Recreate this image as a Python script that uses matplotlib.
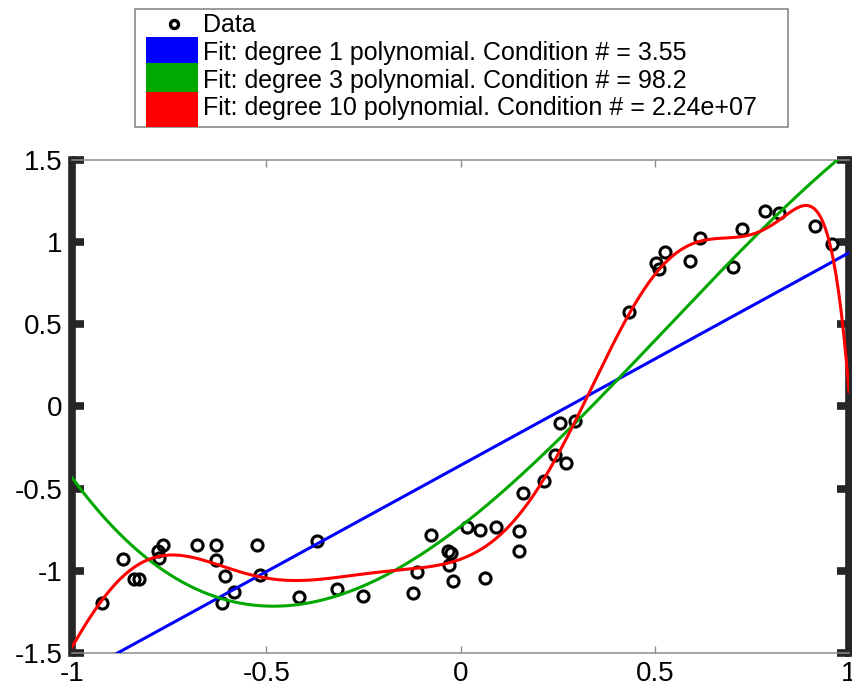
import numpy as np
import matplotlib
matplotlib.use("Agg")
import matplotlib.pyplot as plt
from matplotlib.lines import Line2D
from matplotlib.patches import Rectangle

plt.rcParams['font.family'] = ['Liberation Sans', 'DejaVu Sans']
plt.rcParams['axes.unicode_minus'] = False

# Noisy samples
x_data = [-0.924, -0.870, -0.840, -0.828, -0.776, -0.778, -0.765, -0.679, -0.630, -0.630,
          -0.607, -0.583, -0.615, -0.523, -0.517, -0.371, -0.417, -0.319, -0.251, -0.122,
          -0.112, -0.075, -0.032, -0.024, -0.030, -0.020, 0.016, 0.050, 0.063, 0.090,
          0.151, 0.151, 0.160, 0.215, 0.244, 0.271, 0.257, 0.295, 0.433, 0.504,
          0.511, 0.526, 0.590, 0.617, 0.701, 0.724, 0.783, 0.820, 0.913, 0.955]
y_data = [-1.194, -0.930, -1.052, -1.052, -0.924, -0.878, -0.843, -0.843, -0.843, -0.934,
          -1.032, -1.126, -1.194, -0.843, -1.026, -0.819, -1.162, -1.109, -1.154, -1.137,
          -1.010, -0.782, -0.877, -0.889, -0.965, -1.062, -0.736, -0.752, -1.041, -0.736,
          -0.758, -0.880, -0.529, -0.452, -0.296, -0.342, -0.101, -0.091, 0.575, 0.875,
          0.837, 0.942, 0.885, 1.027, 0.851, 1.080, 1.188, 1.179, 1.100, 0.989]

fit_degrees = [1, 3, 10]
fit_colors = ['#0000ff', '#00a800', '#ff0000']
fit_labels = ['Fit: degree 1 polynomial. Condition # = 3.55',
              'Fit: degree 3 polynomial. Condition # = 98.2',
              'Fit: degree 10 polynomial. Condition # = 2.24e+07']

x_ticks = [-1, -0.5, 0, 0.5, 1]
x_ticklabels = ['-1', '-0.5', '0', '0.5', '1']
y_ticks = [-1.5, -1, -0.5, 0, 0.5, 1, 1.5]
y_ticklabels = ['-1.5', '-1', '-0.5', '0', '0.5', '1', '1.5']

W, H = 852, 687
fig = plt.figure(figsize=(W / 100, H / 100), dpi=100)
ax = fig.add_axes([72.2 / W, (H - 653) / H, (849 - 72.2) / W, (653 - 160) / H])

xd = np.array(x_data)
yd = np.array(y_data)
ax.plot(xd, yd, linestyle='none', marker='o', markersize=8,
        markerfacecolor='none', markeredgecolor='black', markeredgewidth=2.2, zorder=2)

xx = np.linspace(-1, 1, 600)
for deg, col in zip(fit_degrees, fit_colors):
    coef = np.polyfit(xd, yd, deg)
    ax.plot(xx, np.polyval(coef, xx), color=col, linewidth=2.2, zorder=3)

ax.set_xlim(-1, 1)
ax.set_ylim(-1.5, 1.5)
ax.set_xticks(x_ticks)
ax.set_xticklabels(x_ticklabels)
ax.set_yticks(y_ticks)
ax.set_yticklabels(y_ticklabels)

dark = '#262626'
grey = '#8c8c8c'
for side in ['left', 'right']:
    ax.spines[side].set_linewidth(5.5)
    ax.spines[side].set_color(dark)
for side in ['top', 'bottom']:
    ax.spines[side].set_linewidth(1.1)
    ax.spines[side].set_color(grey)

ax.tick_params(axis='y', which='both', direction='in', left=True, right=True,
               length=8.6, width=5.5, color=dark, labelsize=20, labelcolor='black', pad=7)
ax.tick_params(axis='x', which='both', direction='in', bottom=True, top=True,
               length=5, width=1.0, color=grey, labelsize=20, labelcolor='black', pad=6)

# Legend box above the axes (pixel layout, top-left origin)
def fx(px):
    return px / W

def fy(py):
    return 1 - py / H

legend_fs = 18
row_edges = [9.3, 36.7, 63.3, 91.7, 126.7]
baselines = [31.7, 60.0, 88.3, 115.0]
swatch_x0, swatch_x1, text_x = 146, 198, 203

fig.add_artist(Rectangle((fx(135), fy(126.7)), fx(788) - fx(135), fy(9.3) - fy(126.7),
                         transform=fig.transFigure, facecolor='white',
                         edgecolor='#808080', linewidth=1.1, zorder=1))
fig.add_artist(Line2D([fx(174)], [fy(24)], transform=fig.transFigure, linestyle='none',
                      marker='o', markersize=5.8, markerfacecolor='none',
                      markeredgecolor='black', markeredgewidth=2.4, zorder=3))
for i, col in enumerate(fit_colors):
    top, bot = row_edges[i + 1], row_edges[i + 2]
    fig.add_artist(Rectangle((fx(swatch_x0), fy(bot)), fx(swatch_x1) - fx(swatch_x0),
                             fy(top) - fy(bot), transform=fig.transFigure,
                             facecolor=col, edgecolor='none', zorder=2))
for label, base in zip(['Data'] + fit_labels, baselines):
    fig.text(fx(text_x), fy(base), label, fontsize=legend_fs, va='baseline', ha='left',
             color='black', zorder=3)

fig.savefig('out.png', dpi=100)
